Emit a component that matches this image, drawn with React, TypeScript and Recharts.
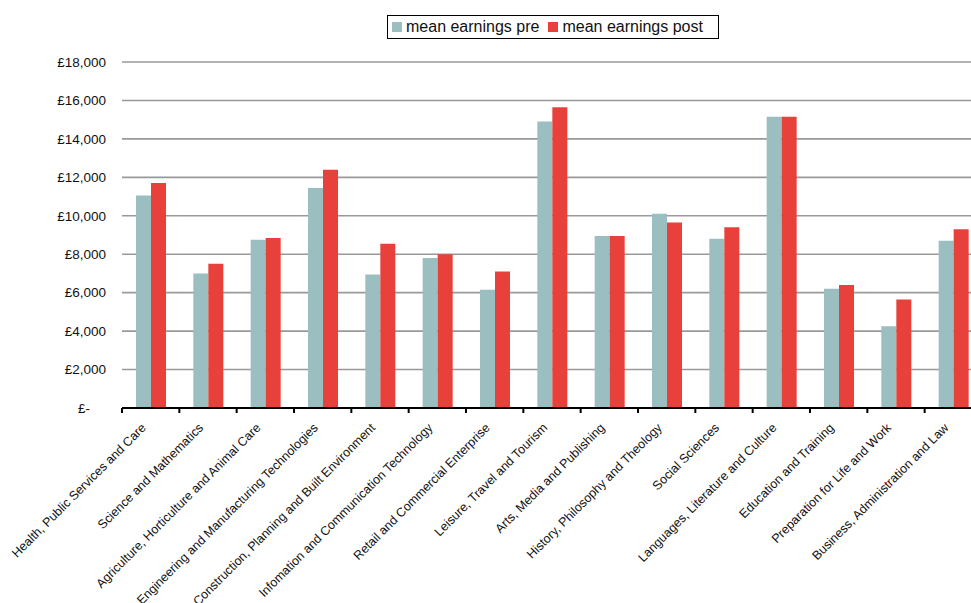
import React from 'react';
import { BarChart, Bar, XAxis, YAxis, CartesianGrid, Legend } from 'recharts';

const categories = [
  'Health, Public Services and Care',
  'Science and Mathematics',
  'Agriculture, Horticulture and Animal Care',
  'Engineering and Manufacturing Technologies',
  'Construction, Planning and Built Environment',
  'Infomation and Communication Technology',
  'Retail and Commercial Enterprise',
  'Leisure, Travel and Tourism',
  'Arts, Media and Publishing',
  'History, Philosophy and Theology',
  'Social Sciences',
  'Languages, Literature and Culture',
  'Education and Training',
  'Preparation for Life and Work',
  'Business, Administration and Law',
];

const preValues = [11050, 7000, 8750, 11450, 6950, 7800, 6150, 14900, 8950, 10100, 8800, 15150, 6200, 4250, 8700];
const postValues = [11700, 7500, 8850, 12400, 8550, 8000, 7100, 15650, 8950, 9650, 9400, 15150, 6400, 5650, 9300];

const yTicks = [0, 2000, 4000, 6000, 8000, 10000, 12000, 14000, 16000, 18000];

const seriesKeys = ['pre', 'post'];
const seriesNames: Record<string, string> = { pre: 'mean earnings pre', post: 'mean earnings post' };
const colors: Record<string, string> = { pre: '#9BBEC1', post: '#E8403A' };

const data = categories.map((c, i) => ({ category: c, pre: preValues[i], post: postValues[i] }));

const formatPounds = (v: number) => (v === 0 ? '£-' : '£' + v.toLocaleString('en-GB'));

function XTick(props: any) {
  const { x, y, payload } = props;
  const off = payload && typeof payload.offset === 'number' ? payload.offset : 0;
  const axisY = y - 8;
  return (
    <g>
      <line x1={x - off} x2={x - off} y1={axisY} y2={axisY + 5} stroke="#000" strokeWidth={2} />
      <text
        x={0}
        y={0}
        transform={`translate(${x - 4},${axisY + 20.5}) rotate(-45)`}
        textAnchor="end"
        fontSize={12.5}
        fill="#111"
      >
        {payload.value}
      </text>
    </g>
  );
}

function YTick(props: any) {
  const { x, y, payload } = props;
  const isZero = payload.value === 0;
  return (
    <text x={x} y={y} dx={isZero ? -16 : 0} dy="0.355em" textAnchor="end" fontSize={13.5} fill="#111">
      {formatPounds(payload.value)}
    </text>
  );
}

function LegendBox(props: any) {
  const items = [...(props.payload || [])].sort(
    (a: any, b: any) => seriesKeys.indexOf(a.dataKey) - seriesKeys.indexOf(b.dataKey)
  );
  return (
    <div
      style={{
        border: '1px solid #000',
        height: 22,
        width: 326,
        display: 'flex',
        alignItems: 'center',
        paddingLeft: 4,
        boxSizing: 'content-box',
        background: '#fff',
        fontSize: 16,
        color: '#111',
        fontFamily: '"Liberation Sans", Arial, sans-serif',
      }}
    >
      {items.map((p: any) => (
        <span key={p.value} style={{ display: 'inline-flex', alignItems: 'center', marginRight: 9 }}>
          <span style={{ display: 'inline-block', width: 10, height: 10, background: p.color, marginRight: 4 }} />
          <span>{p.value}</span>
        </span>
      ))}
    </div>
  );
}

export default function App() {
  return (
    <div
      style={{
        position: 'fixed',
        left: 0,
        top: 0,
        width: 971,
        height: 603,
        overflow: 'hidden',
        background: '#fff',
        fontFamily: '"Liberation Sans", Arial, sans-serif',
      }}
    >
      <BarChart
        width={1000}
        height={603}
        data={data}
        margin={{ top: 62, right: 18, bottom: 0, left: 0 }}
        barGap={0}
        barSize={15}
      >
        <CartesianGrid horizontal vertical={false} stroke="#999" strokeWidth={1.6} />
        <XAxis
          dataKey="category"
          interval={0}
          height={195}
          tickLine={false}
          tickSize={6}
          tickMargin={2}
          axisLine={{ stroke: '#000', strokeWidth: 2 }}
          tick={<XTick />}
        />
        <YAxis
          width={122}
          domain={[0, 18000]}
          ticks={yTicks}
          axisLine={false}
          tickLine={false}
          tickSize={6}
          tickMargin={10}
          tick={<YTick />}
        />
        <Legend
          verticalAlign="middle"
          align="center"
          layout="horizontal"
          wrapperStyle={{ position: 'absolute', left: 387, top: 15, width: 'auto' }}
          content={<LegendBox />}
        />
        <Bar dataKey="pre" name={seriesNames.pre} fill={colors.pre} isAnimationActive={false} />
        <Bar dataKey="post" name={seriesNames.post} fill={colors.post} isAnimationActive={false} />
      </BarChart>
    </div>
  );
}
